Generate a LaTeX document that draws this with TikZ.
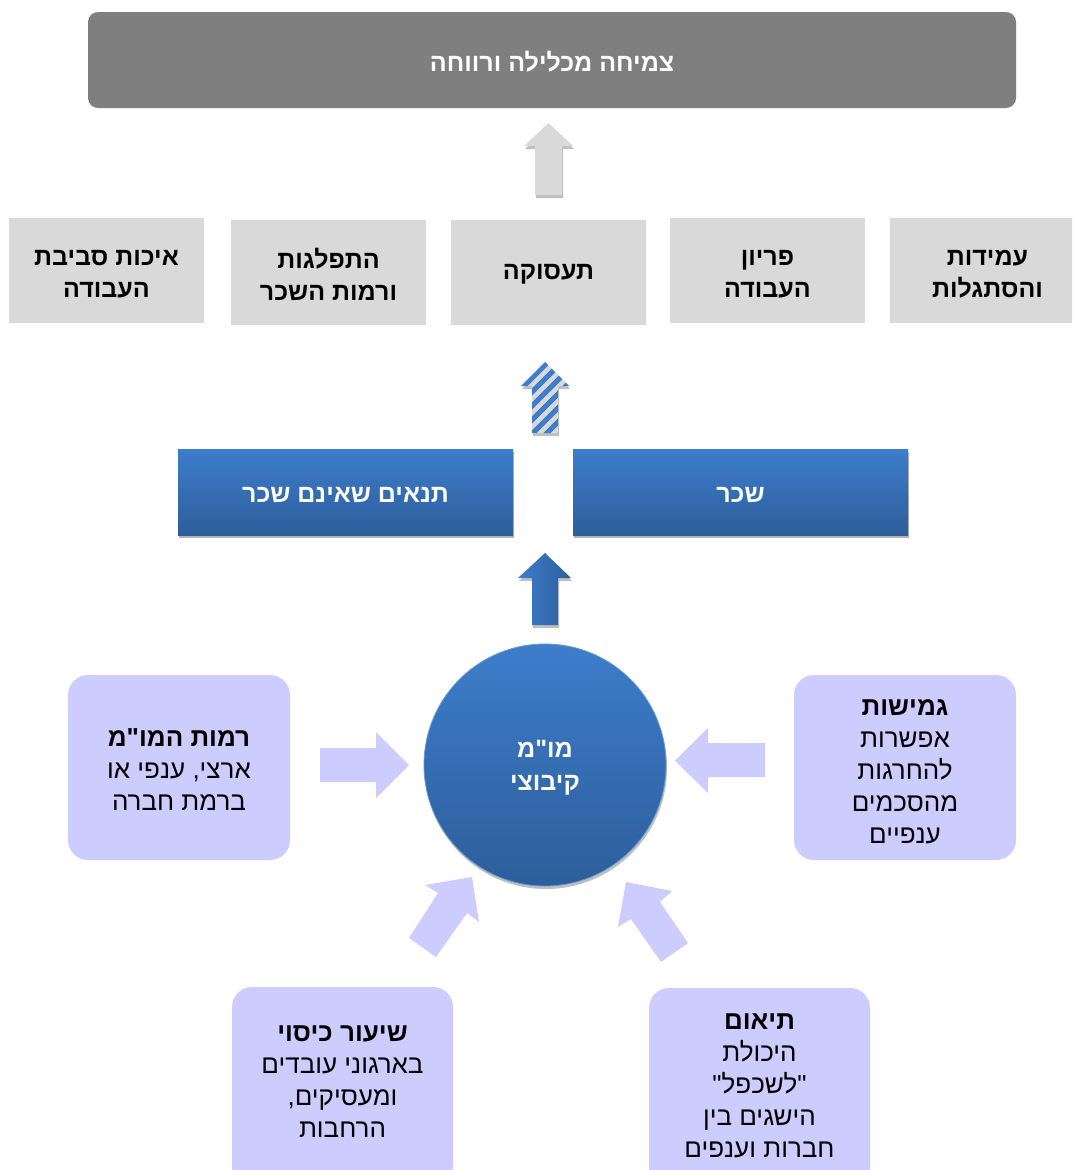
\documentclass[tikz,border=0pt]{standalone}
\usepackage{fontspec}
\newfontfamily\heb[Script=Hebrew]{Liberation Sans}
\TeXXeTstate=1
\usetikzlibrary{shadows}
\newcommand{\hebline}[1]{\beginR#1\endR}
\definecolor{topgray}{HTML}{7F7F7F}
\definecolor{boxgray}{HTML}{D9D9D9}
\definecolor{bluetop}{HTML}{3D7DCB}
\definecolor{bluebot}{HTML}{2D5E9B}
\definecolor{lav}{HTML}{CCCCFF}
\definecolor{stripeblue}{HTML}{3E7DCA}
\tikzset{
  hebtext/.style={font=\heb\fontsize{26}{32}\selectfont, align=center, inner sep=0pt},
  hebbold/.style={font=\heb\bfseries\fontsize{25}{32}\selectfont, align=center},
  topbar/.style={fill=topgray, rounded corners=10pt, minimum width=928, minimum height=96, inner sep=0pt, outer sep=0pt, text=white, hebbold},
  graybox/.style={fill=boxgray, minimum width=195, minimum height=105, inner sep=0pt, outer sep=0pt, hebbold},
  bluebox/.style={top color=bluetop, bottom color=bluebot, minimum width=335, minimum height=86, inner sep=0pt, outer sep=0pt,
    drop shadow={shadow xshift=1pt, shadow yshift=-3pt, opacity=0.3, fill=black}},
  whitelabel/.style={text=white, hebbold, inner sep=0pt},
  blacklabel/.style={hebbold, inner sep=0pt},
  lavbox/.style={fill=lav, rounded corners=20pt, inner sep=0pt, outer sep=0pt},
  lavarrow/.style={fill=lav},
  softshadow/.style={drop shadow={shadow xshift=1pt, shadow yshift=-3pt, opacity=0.25, fill=black}}
}
\begin{document}
\begin{tikzpicture}[x=1pt,y=-1pt]
\clip (0,0) rectangle (1072,1170);
\fill[white] (0,0) rectangle (1072,1170);

% top bar
\node[topbar] (top) at (552,60) {};
\node[whitelabel] (topt) at (552,62) {\hebline{צמיחה מכלילה ורווחה}};

% gray arrow
\coordinate (ga) at (548.5,195);
\path[fill=boxgray, softshadow] (535,195) -- (535,146) -- (524,146) -- (548.5,123) -- (573,146) -- (562,146) -- (562,195) -- cycle;

% gray boxes
\node[graybox] (g1) at (106.5,270.5) {};
\node[blacklabel] (g1t) at (106.5,274) {\hebline{איכות סביבת}\\\hebline{העבודה}};
\node[graybox] (g2) at (328.5,272) {};
\node[blacklabel] (g2t) at (328.5,274) {\hebline{התפלגות}\\\hebline{ורמות השכר}};
\node[graybox] (g3) at (548.5,272) {};
\node[blacklabel] (g3t) at (548.5,274) {\hebline{תעסוקה}};
\node[graybox] (g4) at (767.5,270.5) {};
\node[blacklabel] (g4t) at (767.5,274) {\hebline{פריון}\\\hebline{העבודה}};
\node[graybox] (g5) at (987.5,270.5) {};
\node[blacklabel] (g5t) at (987.5,274) {\hebline{עמידות}\\\hebline{והסתגלות}};

% striped arrow
\path[fill=boxgray, softshadow] (532,433) -- (532,386) -- (521,386) -- (545,362) -- (569,386) -- (558,386) -- (558,433) -- cycle;
\begin{scope}
\clip (532,433) -- (532,386) -- (521,386) -- (545,362) -- (569,386) -- (558,386) -- (558,433) -- cycle;
\foreach \k in {0,...,16} \draw[stripeblue, line width=5pt] (495,{345+14*\k}) -- (600,{240+14*\k});
\end{scope}

% blue boxes
\node[bluebox] (b1) at (345.5,492) {};
\node[whitelabel] (b1t) at (345.5,495) {\hebline{תנאים שאינם שכר}};
\node[bluebox] (b2) at (740.5,492) {};
\node[whitelabel] (b2t) at (740.5,495) {\hebline{שכר}};

% blue arrow
\path[left color=bluetop, right color=bluebot, softshadow] (532,625) -- (532,578) -- (518,578) -- (545,553) -- (571,578) -- (558,578) -- (558,625) -- cycle;

% circle
\node[circle, top color=bluetop, bottom color=bluebot, draw=bluetop!80!white, line width=0.8pt, minimum size=242, inner sep=0pt, softshadow] (mm) at (545,765) {};
\node[whitelabel, font=\heb\bfseries\fontsize{25}{33}\selectfont] (mmt) at (545,768) {\hebline{מו"מ}\\\hebline{קיבוצי}};

% lavender boxes
\node[lavbox, minimum width=222, minimum height=185] (l1) at (179,767.5) {};
\node[hebtext] (l1t) at (179,770) {\textbf{\hebline{רמות המו"מ}}\\\hebline{ארצי, ענפי או}\\\hebline{ברמת חברה}};
\node[lavbox, minimum width=222, minimum height=185] (r1) at (905,767.5) {};
\node[hebtext] (r1t) at (905,772) {\textbf{\hebline{גמישות}}\\\hebline{אפשרות}\\\hebline{להחרגות}\\\hebline{מהסכמים}\\\hebline{ענפיים}};
\node[lavbox, minimum width=221, minimum height=200] (l2) at (342.5,1087) {};
\node[hebtext] (l2t) at (342.5,1082) {\textbf{\hebline{שיעור כיסוי}}\\\hebline{בארגוני עובדים}\\\hebline{ומעסיקים,}\\\hebline{הרחבות}};
\node[lavbox, minimum width=221, minimum height=200] (r2) at (759.5,1088) {};
\node[hebtext] (r2t) at (759.5,1086) {\textbf{\hebline{תיאום}}\\\hebline{היכולת}\\\hebline{"לשכפל"}\\\hebline{הישגים בין}\\\hebline{חברות וענפים}};

% lavender arrows
\path[lavarrow] (320,748) -- (376,748) -- (376,732) -- (409,765) -- (376,798) -- (376,782) -- (320,782) -- cycle;
\path[lavarrow] (765,743) -- (708,743) -- (708,728) -- (675,760.5) -- (708,793) -- (708,777) -- (765,777) -- cycle;
\path[lavarrow] (409,938) -- (438,893) -- (425,885) -- (472,877) -- (479,922) -- (467,913) -- (436,957) -- cycle;
\path[lavarrow] (661,962) -- (631,919) -- (618,927) -- (626,882) -- (672,891) -- (660,902) -- (688,943) -- cycle;
\end{tikzpicture}
\end{document}
